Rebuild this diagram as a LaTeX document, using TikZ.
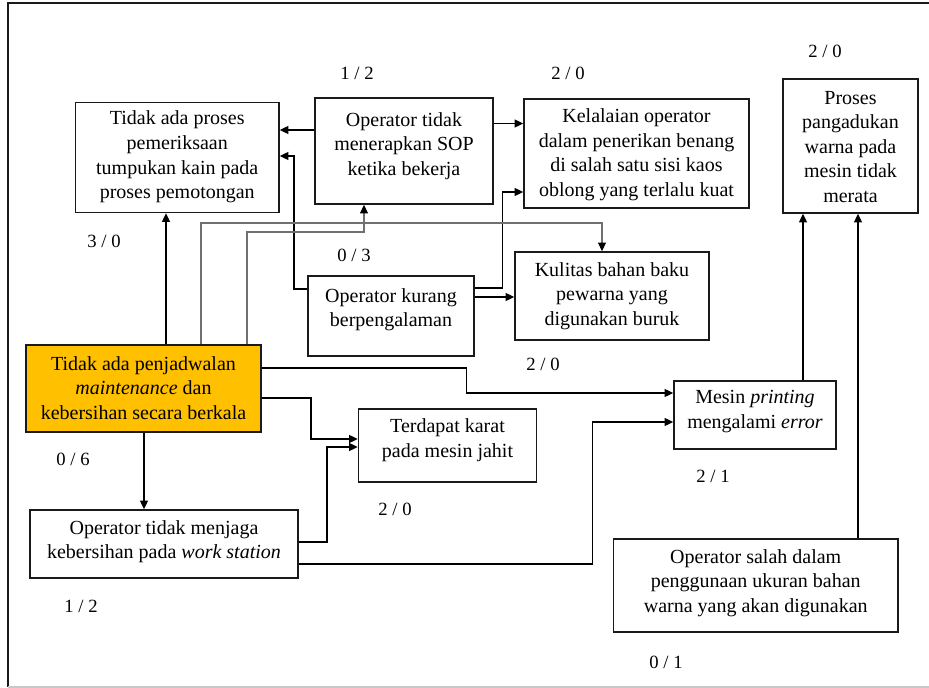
\documentclass[tikz,border=0pt]{standalone}
\usepackage{fontspec}
\setmainfont{Liberation Serif}
\usetikzlibrary{arrows.meta}
\definecolor{orangefill}{HTML}{FFC000}
\definecolor{boxline}{HTML}{1A1A1A}
\definecolor{greyline}{HTML}{707070}
\definecolor{framegrey}{HTML}{C8C8C8}
\def\u{0.75pt}
\tikzset{
  box/.style={draw=boxline, line width=1.2pt, rectangle, inner sep=0pt},
  txt/.style={align=center, inner sep=0pt, font=\fontsize{15pt}{18.4pt}\selectfont},
  num/.style={inner sep=0pt, font=\fontsize{14pt}{16pt}\selectfont},
  arr/.style={line width=1.1pt, -{Triangle[length=6.5pt,width=6pt]}},
  garr/.style={line width=0.8pt, draw=greyline, -{Triangle[length=6.5pt,width=6pt,color=black]}},
}
\begin{document}
\begin{tikzpicture}[x=0.75pt,y=-0.75pt]
\useasboundingbox (0,0) rectangle (929,688);
% frame
\draw[line width=1.2pt, draw=boxline] (8,687) -- (8,3) -- (929,3);
\draw[line width=0.8pt, draw=framegrey] (8,687) -- (929,687);

% boxes
\node[box, minimum width=203.5*\u, minimum height=110*\u] (A) at (177.25,157.5) {};
\node[txt] (At) at (177.25,157) {Tidak ada proses\\pemeriksaan\\tumpukan kain pada\\proses pemotongan};

\node[box, minimum width=178*\u, minimum height=106*\u] (B) at (404,151) {};
\node[txt] (Bt) at (404,146) {Operator tidak\\menerapkan SOP\\ketika bekerja};

\node[box, minimum width=225*\u, minimum height=109*\u] (C) at (636.5,153.5) {};
\node[txt] (Ct) at (636.5,154.5) {Kelalaian operator\\dalam penerikan benang\\di salah satu sisi kaos\\oblong yang terlalu kuat};

\node[box, minimum width=135*\u, minimum height=134*\u] (D) at (850.5,146) {};
\node[txt] (Dt) at (850.5,147) {Proses\\pangadukan\\warna pada\\mesin tidak\\merata};

\node[box, minimum width=194*\u, minimum height=88*\u] (E) at (612,296) {};
\node[txt] (Et) at (612,296) {Kulitas bahan baku\\pewarna yang\\digunakan buruk};

\node[box, minimum width=166*\u, minimum height=80*\u] (F) at (391,316) {};
\node[txt] (Ft) at (391,309.5) {Operator kurang\\berpengalaman};

\node[box, fill=orangefill, minimum width=235*\u, minimum height=87*\u] (G) at (143.5,388.5) {};
\node[txt] (Gt) at (143.5,388) {Tidak ada penjadwalan\\\textit{maintenance} dan\\kebersihan secara berkala};

\node[box, minimum width=178*\u, minimum height=73*\u] (H) at (447.5,445.5) {};
\node[txt] (Ht) at (447.5,440) {Terdapat karat\\pada mesin jahit};

\node[box, minimum width=162*\u, minimum height=68*\u] (I) at (755,415) {};
\node[txt] (It) at (755,411.5) {Mesin \textit{printing}\\mengalami \textit{error}};

\node[box, minimum width=268*\u, minimum height=68*\u] (J) at (164,544) {};
\node[txt] (Jt) at (164,541.5) {Operator tidak menjaga\\kebersihan pada \textit{work station}};

\node[box, minimum width=284.5*\u, minimum height=93*\u] (K) at (755.75,585.5) {};
\node[txt] (Kt) at (755.75,583) {Operator salah dalam\\penggunaan ukuran bahan\\warna yang akan digunakan};

% numbers
\node[num] (n1) at (357,73) {1 / 2};
\node[num] (n2) at (568,73) {2 / 0};
\node[num] (n3) at (825,51) {2 / 0};
\node[num] (n4) at (104,241) {3 / 0};
\node[num] (n5) at (354,255) {0 / 3};
\node[num] (n6) at (543,364) {2 / 0};
\node[num] (n7) at (73,459) {0 / 6};
\node[num] (n8) at (395,509) {2 / 0};
\node[num] (n9) at (713,476) {2 / 1};
\node[num] (n10) at (81,606) {1 / 2};
\node[num] (n11) at (666,662) {0 / 1};

% connectors
\draw[arr] (B.west |- 0,130) -- (A.east |- 0,130);
\draw[arr] (F.west |- 0,289) -| (294,156) -- (A.east |- 0,156);
\draw[arr] (B.east |- 0,123.5) -- (C.west |- 0,123.5);
\draw[arr] (F.east |- 0,288) -| (502.5,192) -- (C.west |- 0,192);
\draw[arr] (F.east |- 0,297) -- (E.west |- 0,297);
\draw[arr] (G.north -| 166,0) -- (A.south -| 166,0);
\draw[garr] (G.north -| 201,0) |- (602,223) -- (E.north -| 602,0);
\draw[garr] (G.north -| 247,0) |- (364,232) -- (B.south -| 364,0);
\draw[arr] (G.east |- 0,368) -| (466.5,393) -- (I.west |- 0,393);
\draw[arr] (G.east |- 0,398) -| (311,439) -- (H.west |- 0,439);
\draw[arr] (J.east |- 0,542) -| (327,447) -- (H.west |- 0,447);
\draw[arr] (J.east |- 0,564) -| (592.5,422) -- (I.west |- 0,422);
\draw[arr] (G.south -| 144,0) -- (J.north -| 144,0);
\draw[arr] (I.north -| 803,0) -- (D.south -| 803,0);
\draw[arr] (K.north -| 858,0) -- (D.south -| 858,0);
\end{tikzpicture}
\end{document}
